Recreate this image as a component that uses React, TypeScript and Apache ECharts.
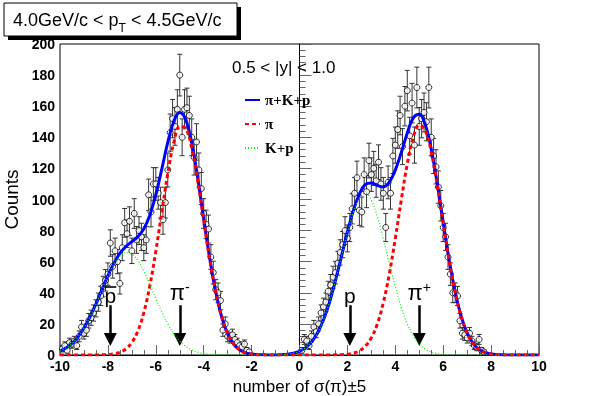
import React, { useEffect, useRef } from 'react';
import * as echarts from 'echarts';

// fit curves sampled every 0.25 in n sigma
const curveX = [
  -10, -9.75, -9.5, -9.25, -9, -8.75, -8.5, -8.25, -8, -7.75,
  -7.5, -7.25, -7, -6.75, -6.5, -6.25, -6, -5.75, -5.5, -5.25,
  -5, -4.75, -4.5, -4.25, -4, -3.75, -3.5, -3.25, -3, -2.75,
  -2.5, -2.25, -2, -1.75, -1.5, -1.25, -1, -0.75, -0.5, -0.25,
  0, 0.25, 0.5, 0.75, 1, 1.25, 1.5, 1.75, 2, 2.25,
  2.5, 2.75, 3, 3.25, 3.5, 3.75, 4, 4.25, 4.5, 4.75,
  5, 5.25, 5.5, 5.75, 6, 6.25, 6.5, 6.75, 7, 7.25,
  7.5, 7.75, 8, 8.25, 8.5, 8.75, 9, 9.25, 9.5, 9.75, 10,
];
const fitTotal = [
  2.6, 4.5, 7.4, 11.6, 17.3, 24.5, 32.8, 42.0, 51.0, 58.9,
  65.3, 69.8, 72.9, 76.1, 81.2, 89.9, 103.0, 119.5, 136.7, 150.2,
  155.9, 151.3, 136.4, 113.8, 87.7, 62.3, 40.8, 24.6, 13.6, 7.0,
  3.3, 1.4, 0.6, 0.2, 0.1, 0, 0, 0.2, 0.5, 1.2,
  2.4, 4.6, 8.3, 14.1, 22.5, 33.8, 47.7, 63.3, 79.0, 93.0,
  103.5, 109.7, 110.6, 109.0, 108.1, 111.1, 118.9, 130.2, 142.8, 152.5,
  154.8, 148.2, 132.5, 110.3, 85.2, 61.0, 40.5, 24.9, 14.1, 7.5,
  3.6, 1.6, 0.7, 0.3, 0.1, 0, 0, 0, 0, 0, 0,
];
const fitPion = [
  0, 0, 0, 0, 0, 0, 0, 0.1, 0.3, 0.7,
  1.7, 3.9, 8.0, 15.4, 27.3, 44.4, 66.6, 91.8, 116.7, 136.5,
  147.0, 145.8, 133.2, 112.0, 86.7, 61.8, 40.6, 24.5, 13.6, 7.0,
  3.3, 1.4, 0.6, 0.2, 0.1, 0, 0, 0, 0, 0,
  0, 0, 0, 0, 0, 0, 0.1, 0.2, 0.5, 1.2,
  2.7, 5.7, 11.1, 20.0, 33.6, 52.1, 74.9, 99.7, 122.8, 140.0,
  147.8, 144.4, 130.6, 109.4, 84.8, 60.8, 40.4, 24.9, 14.1, 7.5,
  3.6, 1.6, 0.7, 0.3, 0.1, 0, 0, 0, 0, 0, 0,
];
const fitKp = [
  2.6, 4.5, 7.4, 11.6, 17.3, 24.5, 32.8, 41.9, 50.7, 58.2,
  63.6, 65.9, 64.9, 60.7, 53.9, 45.5, 36.4, 27.7, 20.0, 13.7,
  8.9, 5.5, 3.2, 1.8, 1.0, 0.5, 0.2, 0.1, 0, 0,
  0, 0, 0, 0, 0, 0, 0, 0.2, 0.5, 1.2,
  2.4, 4.6, 8.3, 14.1, 22.5, 33.8, 47.6, 63.1, 78.5, 91.8,
  100.8, 104.0, 99.5, 89.0, 74.5, 59.0, 44.0, 30.5, 20.0, 12.5,
  7.0, 3.8, 1.9, 0.9, 0.4, 0.2, 0.1, 0, 0, 0,
  0, 0, 0, 0, 0, 0, 0, 0, 0, 0, 0,
];

// measured histogram points
const dataX = [
  -9.9, -9.8, -9.7, -9.6, -9.5, -9.4, -9.3, -9.2, -9.1, -9.0,
  -8.9, -8.8, -8.7, -8.6, -8.5, -8.4, -8.3, -8.2, -8.1, -8.0,
  -7.9, -7.8, -7.7, -7.6, -7.5, -7.4, -7.3, -7.2, -7.1, -7.0,
  -6.9, -6.8, -6.7, -6.6, -6.5, -6.4, -6.3, -6.2, -6.1, -6.0,
  -5.9, -5.8, -5.7, -5.6, -5.5, -5.4, -5.3, -5.2, -5.1, -5.0,
  -4.9, -4.8, -4.7, -4.6, -4.5, -4.4, -4.3, -4.2, -4.1, -4.0,
  -3.9, -3.8, -3.7, -3.6, -3.5, -3.4, -3.3, -3.2, -3.1, -3.0,
  -2.9, -2.8, -2.7, -2.6, -2.5, -2.4, -2.3, -2.2, -2.1,
  0.1, 0.2, 0.3, 0.4, 0.5, 0.6, 0.7, 0.8, 0.9, 1.0,
  1.1, 1.2, 1.3, 1.4, 1.5, 1.6, 1.7, 1.8, 1.9, 2.0,
  2.1, 2.2, 2.3, 2.4, 2.5, 2.6, 2.7, 2.8, 2.9, 3.0,
  3.1, 3.2, 3.3, 3.4, 3.5, 3.6, 3.7, 3.8, 3.9, 4.0,
  4.1, 4.2, 4.3, 4.4, 4.5, 4.6, 4.7, 4.8, 4.9, 5.0,
  5.1, 5.2, 5.3, 5.4, 5.5, 5.6, 5.7, 5.8, 5.9, 6.0,
  6.1, 6.2, 6.3, 6.4, 6.5, 6.6, 6.7, 6.8, 6.9, 7.0,
  7.1, 7.2, 7.3, 7.4, 7.5, 7.6, 7.7,
];
const dataY = [
  4, 6, 3, 8, 7, 9, 6, 12, 18, 14,
  16, 22, 24, 27, 30, 34, 38, 44, 48, 52,
  72, 57, 67, 60, 46, 69, 85, 78, 86, 67,
  91, 74, 80, 76, 69, 74, 103, 92, 110, 110,
  104, 98, 87, 98, 119, 143, 152, 147, 158, 180,
  140, 158, 159, 154, 140, 127, 137, 119, 107, 91,
  84, 81, 63, 53, 42, 40, 35, 16, 20, 12,
  11, 13, 10, 8, 6, 5, 7, 3, 2,
  3, 10, 9, 6, 12, 18, 15, 20, 27, 31,
  34, 41, 45, 50, 53, 59, 66, 71, 80, 75,
  82, 94, 104, 114, 93, 92, 116, 105, 125, 116,
  120, 112, 124, 110, 104, 82, 111, 104, 128, 135,
  145, 154, 134, 160, 170, 141, 162, 135, 172, 147,
  152, 156, 150, 172, 140, 128, 121, 108, 96, 82,
  76, 63, 52, 40, 40, 38, 22, 14, 13, 11,
  14, 9, 6, 5, 10, 3, 2,
];

// arrows marking expected positions
const arrowX = [-7.9, -5.0, 2.1, 5.0];
const arrowFrom = [32, 32, 32, 32];
const arrowTo = [10, 10, 10, 10];
const arrowLabels = ['{p|p}', '{pi|\u03c0}{sup|-}', '{p|p}', '{pi|\u03c0}{sup|+}'];
// overbar of the anti-proton label (x range and height, data units)
const pbarX = [-8.15, -7.65];
const pbarY = 43.7;

const legendNames = ['\u03c0+K+p', '\u03c0', 'K+p'];

const option: any = {
  animation: false,
  textStyle: { fontFamily: 'Liberation Sans' },
  grid: {
    left: 60, top: 44, width: 479, height: 311, show: true,
    borderColor: '#000', borderWidth: 1, outerBoundsMode: 'none', containLabel: false,
  },
  xAxis: {
    type: 'value', min: -10, max: 10, interval: 2,
    axisLine: { lineStyle: { color: '#000' } },
    axisTick: { inside: true, length: 10, lineStyle: { color: '#666' } },
    minorTick: { show: true, splitNumber: 4, length: 5, lineStyle: { color: '#666' } },
    splitLine: { show: false },
    axisLabel: { color: '#000', fontWeight: 'bold', fontSize: 14, margin: 4 },
    name: 'number of \u03c3(\u03c0)\u00b15', nameLocation: 'middle', nameGap: 14,
    nameTextStyle: { fontSize: 17, color: '#000' },
  },
  yAxis: {
    type: 'value', min: 0, max: 200, interval: 20,
    axisLine: { lineStyle: { color: '#000' } },
    axisTick: { inside: true, length: 12, lineStyle: { color: '#666' } },
    minorTick: { show: true, splitNumber: 5, length: 6, lineStyle: { color: '#666' } },
    splitLine: { show: false },
    axisLabel: { color: '#000', fontWeight: 'bold', fontSize: 14, margin: 5 },
    name: 'Counts', nameLocation: 'middle', nameGap: 32, nameRotate: 90,
    nameTextStyle: { fontSize: 19, color: '#000' },
  },
  legend: {
    data: legendNames, orient: 'vertical', left: 244, top: 92, padding: 0,
    itemWidth: 15, itemHeight: 14, itemGap: 8, selectedMode: false,
    itemStyle: { opacity: 0 },
    textStyle: { fontFamily: 'Liberation Serif', fontWeight: 'bold', fontSize: 15, color: '#000', lineHeight: 16 },
  },
  graphic: [
    { type: 'rect', shape: { x: 8, y: 7, width: 233, height: 33 }, style: { fill: '#000' }, z: 100 },
    { type: 'rect', shape: { x: 4, y: 3, width: 233, height: 33 }, style: { fill: '#fff', stroke: '#000', lineWidth: 1 }, z: 101 },
    {
      type: 'text', x: 13, y: 20, z: 102,
      style: {
        text: '{a|4.0GeV/c < p}{s|T}{a| < 4.5GeV/c}',
        verticalAlign: 'middle',
        rich: {
          a: { fontSize: 18, fontFamily: 'Liberation Sans', fill: '#000', lineHeight: 28 },
          s: { fontSize: 12, fontFamily: 'Liberation Sans', fill: '#000', lineHeight: 8, verticalAlign: 'bottom' },
        },
      },
    },
    {
      type: 'text', x: 232, y: 67, z: 102,
      style: { text: '0.5 < |y| < 1.0', fontSize: 17, fontFamily: 'Liberation Sans', fill: '#000', verticalAlign: 'middle' },
    },
  ],
  series: [
    {
      type: 'custom', name: 'errors', z: 2, silent: true,
      data: dataX.map((x, i) => [x, dataY[i], Math.sqrt(dataY[i])]),
      encode: { x: 0, y: 1 },
      renderItem: (params: any, api: any) => {
        const x = api.value(0), y = api.value(1), e = api.value(2);
        const t = api.coord([x, y + e]);
        const b = api.coord([x, y - e]);
        const h = 2.5;
        const st = { stroke: '#333', lineWidth: 1 };
        return {
          type: 'group',
          children: [
            { type: 'line', shape: { x1: t[0], y1: t[1], x2: b[0], y2: b[1] }, style: st },
            { type: 'line', shape: { x1: t[0] - h, y1: t[1], x2: t[0] + h, y2: t[1] }, style: st },
            { type: 'line', shape: { x1: b[0] - h, y1: b[1], x2: b[0] + h, y2: b[1] }, style: st },
          ],
        };
      },
    },
    {
      type: 'scatter', name: 'data', z: 3, silent: true,
      data: dataX.map((x, i) => [x, dataY[i]]),
      symbol: 'circle', symbolSize: 6,
      itemStyle: { color: '#fff', borderColor: '#000', borderWidth: 1 },
    },
    {
      type: 'line', name: legendNames[0], z: 4, silent: true,
      data: curveX.map((x, i) => [x, fitTotal[i]]),
      smooth: 0.4, symbol: 'none', showSymbol: false,
      lineStyle: { color: '#0000ff', width: 3 }, itemStyle: { color: '#0000ff' },
    },
    {
      type: 'line', name: legendNames[1], z: 5, silent: true,
      data: curveX.map((x, i) => [x, fitPion[i]]),
      smooth: 0.4, symbol: 'none', showSymbol: false,
      lineStyle: { color: '#ff0000', width: 3, type: [4, 3] }, itemStyle: { color: '#ff0000' },
    },
    {
      type: 'line', name: legendNames[2], z: 6, silent: true,
      data: curveX.map((x, i) => [x, fitKp[i]]),
      smooth: 0.4, symbol: 'none', showSymbol: false,
      lineStyle: { color: '#00ee00', width: 1.2, type: [1, 2] }, itemStyle: { color: '#00ee00' },
    },
    {
      type: 'line', name: 'arrows', z: 10, data: [], silent: true,
      markLine: {
        silent: true, animation: false,
        symbol: ['none', 'triangle'], symbolSize: 13,
        lineStyle: { color: '#000', width: 2.5, type: 'solid' },
        emphasis: { disabled: true },
        label: {
          show: true, position: 'start', distance: 1, color: '#000',
          formatter: (p: any) => arrowLabels[p.dataIndex],
          rich: {
            p: { fontSize: 21, fontFamily: 'Liberation Sans', color: '#000', lineHeight: 18 },
            pi: { fontSize: 22, fontFamily: 'Liberation Sans', color: '#000', lineHeight: 24 },
            sup: { fontSize: 14, fontFamily: 'Liberation Sans', color: '#000', lineHeight: 6, verticalAlign: 'top' },
          },
        },
        data: arrowX.map((x, i) => [{ coord: [x, arrowFrom[i]] }, { coord: [x, arrowTo[i]] }]),
      },
    },
    {
      type: 'line', name: 'pbar', z: 10, data: [], silent: true,
      markLine: {
        silent: true, animation: false, symbol: ['none', 'none'],
        lineStyle: { color: '#000', width: 1.6, type: 'solid' },
        emphasis: { disabled: true },
        label: { show: false },
        data: [[{ coord: [pbarX[0], pbarY] }, { coord: [pbarX[1], pbarY] }]],
      },
    },
  ],
};

export default function App() {
  const ref = useRef<HTMLDivElement>(null);
  useEffect(() => {
    const chart = echarts.init(ref.current!, null, { renderer: 'svg' });
    chart.setOption(option);
    return () => chart.dispose();
  }, []);
  return <div ref={ref} style={{ position: 'fixed', left: 0, top: 0, width: 600, height: 396 }} />;
}
